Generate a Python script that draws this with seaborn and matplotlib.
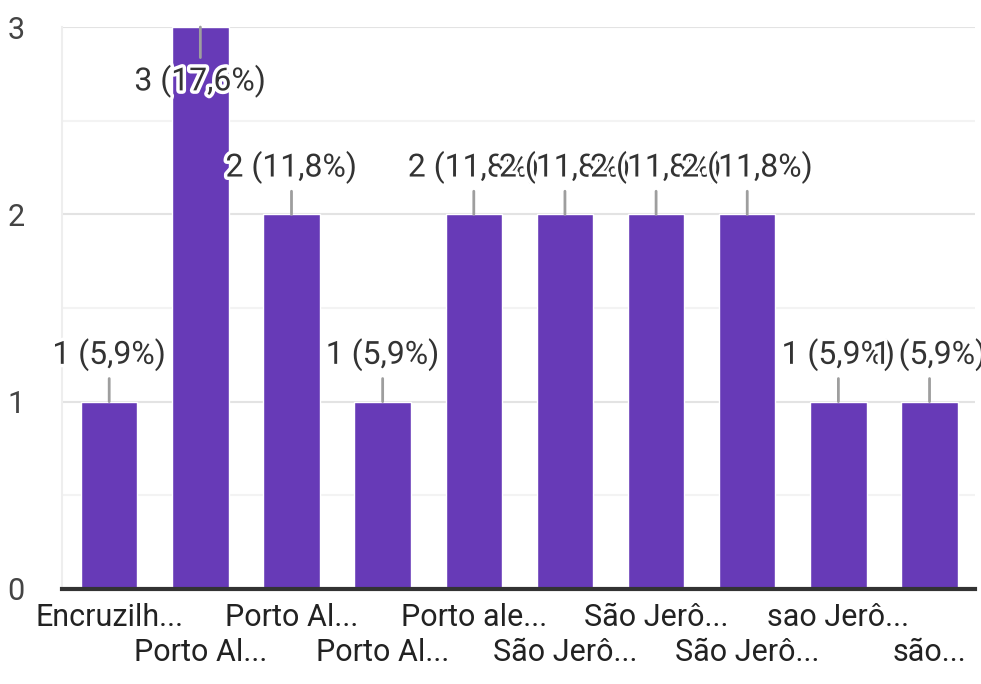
import pandas as pd
import matplotlib
matplotlib.use('Agg')
import matplotlib.pyplot as plt
import matplotlib.patheffects as pe
import seaborn as sns

# Respostas (rótulos truncados como no gráfico original)
labels = ['Encruzilh...', 'Porto Al...', 'Porto Al...', 'Porto Al...', 'Porto ale...',
          'São Jerô...', 'São Jerô...', 'São Jerô...', 'sao Jerô...', 'são...']
counts = [1, 3, 2, 1, 2, 2, 2, 2, 1, 1]
pct_labels = ['5,9%', '17,6%', '11,8%', '5,9%', '11,8%',
              '11,8%', '11,8%', '11,8%', '5,9%', '5,9%']

data = pd.DataFrame({'id': [str(i) for i in range(len(labels))], 'count': counts})

sns.set_style('white')
plt.rcParams['font.family'] = ['Roboto', 'DejaVu Sans']

fig = plt.figure(figsize=(9.81, 6.84), dpi=100)
ax = fig.add_axes([0.063, 0.139, 0.931, 0.8215])

sns.barplot(data=data, x='id', y='count', color='#673ab7', saturation=1,
            width=0.62, ax=ax, zorder=2)

ax.set_xlim(-0.52, 9.5)
ax.set_ylim(0, 3)
ax.set_yticks([0, 1, 2, 3])
ax.set_yticks([0.5, 1.5, 2.5], minor=True)
ax.grid(axis='y', which='major', color='#e3e3e3', lw=1.5, zorder=0)
ax.grid(axis='y', which='minor', color='#f3f3f3', lw=1.5, zorder=0)
ax.set_axisbelow(True)

for s in ['top', 'right']:
    ax.spines[s].set_visible(False)
ax.spines['left'].set_color('#eeeeee')
ax.spines['left'].set_linewidth(1.5)
ax.spines['bottom'].set_color('#333333')
ax.spines['bottom'].set_linewidth(3)
ax.spines['bottom'].set_zorder(3)

# x labels on two alternating rows
ax.set_xticks(range(len(labels)))
ax.set_xticklabels(labels, fontsize=22, color='#222222')
ax.tick_params(axis='x', length=0, pad=10)
for i, tick in enumerate(ax.xaxis.get_major_ticks()):
    if i % 2 == 1:
        tick.set_pad(35)
ax.tick_params(axis='y', which='both', length=0, pad=27, labelsize=22, labelcolor='#444444')
ax.set_xlabel('')
ax.set_ylabel('')

halo = [pe.withStroke(linewidth=5, foreground='white')]
for i, (c, p) in enumerate(zip(counts, pct_labels)):
    if c >= 3:
        ty = c - 0.29
    else:
        ty = c + 0.25
    ax.annotate(f'{c} ({p})', xy=(i, c), xytext=(i, ty), textcoords='data',
                ha='center', va='center', fontsize=23, color='#333333',
                path_effects=halo, zorder=5, annotation_clip=False,
                arrowprops=dict(arrowstyle='-', color='#9e9e9e', lw=2,
                                shrinkA=3, shrinkB=0))

fig.savefig('out.png', dpi=100, facecolor='white')
